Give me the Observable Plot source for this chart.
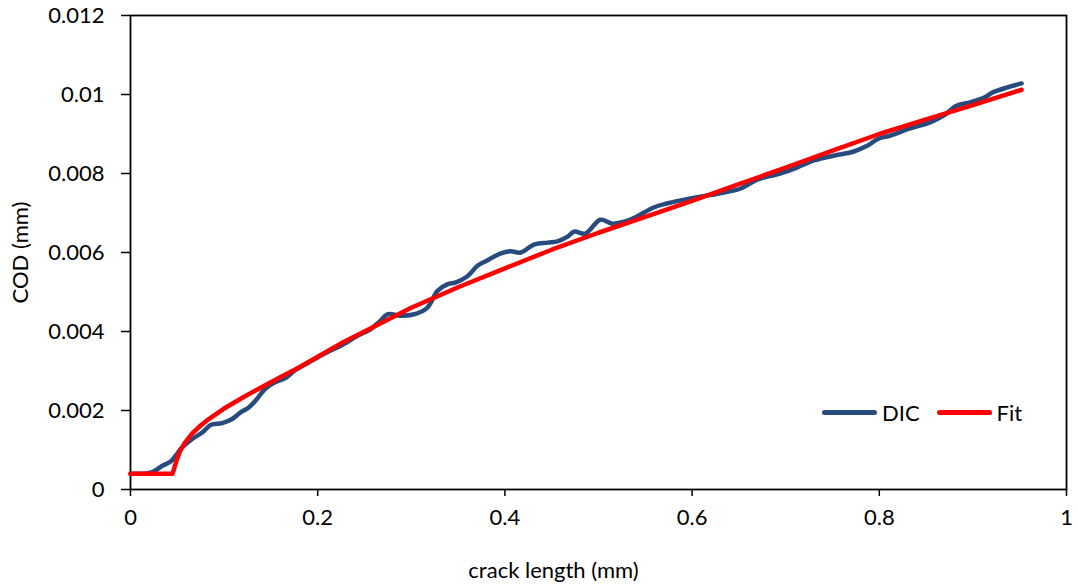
<!DOCTYPE html>
<html>
<head>
<meta charset="utf-8">
<script src="https://cdn.jsdelivr.net/npm/d3@7"></script>
<script src="https://cdn.jsdelivr.net/npm/@observablehq/plot@0.6"></script>
<style>
  body { margin: 0; background: #fff; }
  #wrap { position: relative; width: 1078px; height: 588px; font-family: Lato, "Open Sans", sans-serif; }
  #legend { position: absolute; left: 822px; top: 399px; display: flex; align-items: center; font-size: 22px; color: #000; }
  .sw { display: inline-block; width: 55px; height: 5px; border-radius: 3px; margin-right: 5px; }
</style>
</head>
<body>
<div id="wrap">
  <div id="chart"></div>
  <div id="legend"></div>
</div>
<script>
// crack length (mm) and COD (mm), DIC measurement
const dicX = [0, 0.011, 0.02, 0.027, 0.034, 0.043, 0.048, 0.055, 0.066, 0.077, 0.086, 0.098, 0.109, 0.118, 0.126, 0.134, 0.144, 0.155, 0.166, 0.176, 0.19, 0.208, 0.226, 0.244, 0.256, 0.266, 0.275, 0.288, 0.302, 0.317, 0.328, 0.339, 0.347, 0.36, 0.371, 0.381, 0.395, 0.406, 0.417, 0.431, 0.446, 0.456, 0.467, 0.474, 0.486, 0.502, 0.515, 0.534, 0.559, 0.573, 0.598, 0.63, 0.652, 0.67, 0.694, 0.712, 0.73, 0.751, 0.772, 0.787, 0.799, 0.812, 0.833, 0.855, 0.869, 0.883, 0.897, 0.912, 0.921, 0.937, 0.952];
const dicY = [0.0004, 0.0004, 0.00042, 0.00049, 0.0006, 0.00071, 0.00085, 0.00106, 0.00128, 0.00145, 0.00164, 0.00168, 0.00179, 0.00196, 0.00207, 0.00226, 0.00255, 0.00272, 0.00283, 0.00302, 0.00321, 0.00345, 0.00366, 0.00391, 0.00405, 0.00425, 0.00444, 0.0044, 0.00443, 0.0046, 0.00503, 0.0052, 0.00524, 0.0054, 0.00567, 0.0058, 0.00597, 0.00603, 0.006, 0.0062, 0.00625, 0.00628, 0.0064, 0.00653, 0.00648, 0.00683, 0.00673, 0.00683, 0.00714, 0.00724, 0.00737, 0.0075, 0.00762, 0.00785, 0.008, 0.00815, 0.00833, 0.00845, 0.00855, 0.0087, 0.00888, 0.00896, 0.00914, 0.0093, 0.00947, 0.00972, 0.0098, 0.00992, 0.01005, 0.01018, 0.01028];
// Fit curve
const fitX = [0, 0.045, 0.049, 0.053, 0.058, 0.066, 0.075, 0.084, 0.1, 0.12, 0.14, 0.16, 0.18, 0.2, 0.225, 0.25, 0.3, 0.35, 0.4, 0.45, 0.5, 0.55, 0.6, 0.65, 0.7, 0.75, 0.8, 0.85, 0.9, 0.952];
const fitY = [0.0004, 0.0004, 0.00072, 0.00098, 0.00118, 0.00142, 0.00162, 0.00179, 0.00205, 0.00233, 0.00259, 0.00284, 0.00309, 0.00336, 0.0037, 0.004, 0.0046, 0.00512, 0.0056, 0.00607, 0.0065, 0.0069, 0.00731, 0.00773, 0.00815, 0.00858, 0.009, 0.00937, 0.00973, 0.01012];

const seriesNames = ["DIC", "Fit"];
const seriesColors = ["#284b7e", "#ff0000"];
const xTicks = [0, 0.2, 0.4, 0.6, 0.8, 1];
const yTicks = [0, 0.002, 0.004, 0.006, 0.008, 0.01, 0.012];
const xTitle = "crack length (mm)";
const yTitle = "COD (mm)";

const dic = dicX.map((x, i) => ({x, y: dicY[i]}));
const fit = fitX.map((x, i) => ({x, y: fitY[i]}));

const chart = Plot.plot({
  width: 1078,
  height: 588,
  marginLeft: 130,
  marginRight: 12,
  marginTop: 15,
  marginBottom: 99,
  style: {fontFamily: "Lato, 'Open Sans', sans-serif", fontSize: "22px", color: "#000", background: "#fff"},
  x: {domain: [0, 1]},
  y: {domain: [0, 0.012]},
  marks: [
    Plot.axisX({ticks: xTicks, tickSize: 7, tickPadding: 13, strokeWidth: 1.5, label: null, tickFormat: d3.format("~g")}),
    Plot.axisY({ticks: yTicks, tickSize: 9, tickPadding: 17, strokeWidth: 1.5, label: null, tickFormat: d3.format("~g")}),
    Plot.frame({stroke: "#000", strokeWidth: 1.8}),
    Plot.line(dic, {x: "x", y: "y", stroke: seriesColors[0], strokeWidth: 4.5, curve: "catmull-rom"}),
    Plot.line(fit, {x: "x", y: "y", stroke: seriesColors[1], strokeWidth: 4.5, strokeLinejoin: "round"}),
    Plot.text([xTitle], {frameAnchor: "bottom", textAnchor: "middle", lineAnchor: "middle", dy: 81, dx: -45, text: d => d, fontSize: 22}),
    Plot.text([yTitle], {frameAnchor: "left", textAnchor: "middle", lineAnchor: "middle", dx: -110, rotate: -90, text: d => d, fontSize: 22})
  ]
});
document.getElementById("chart").appendChild(chart);

const legend = document.getElementById("legend");
seriesNames.forEach((n, i) => {
  const item = document.createElement("span");
  item.style.display = "inline-flex";
  item.style.alignItems = "center";
  item.style.marginRight = i === 0 ? "17px" : "0";
  const sw = document.createElement("span");
  sw.className = "sw";
  sw.style.background = seriesColors[i];
  const t = document.createElement("span");
  t.textContent = n;
  item.appendChild(sw);
  item.appendChild(t);
  legend.appendChild(item);
});
</script>
</body>
</html>
